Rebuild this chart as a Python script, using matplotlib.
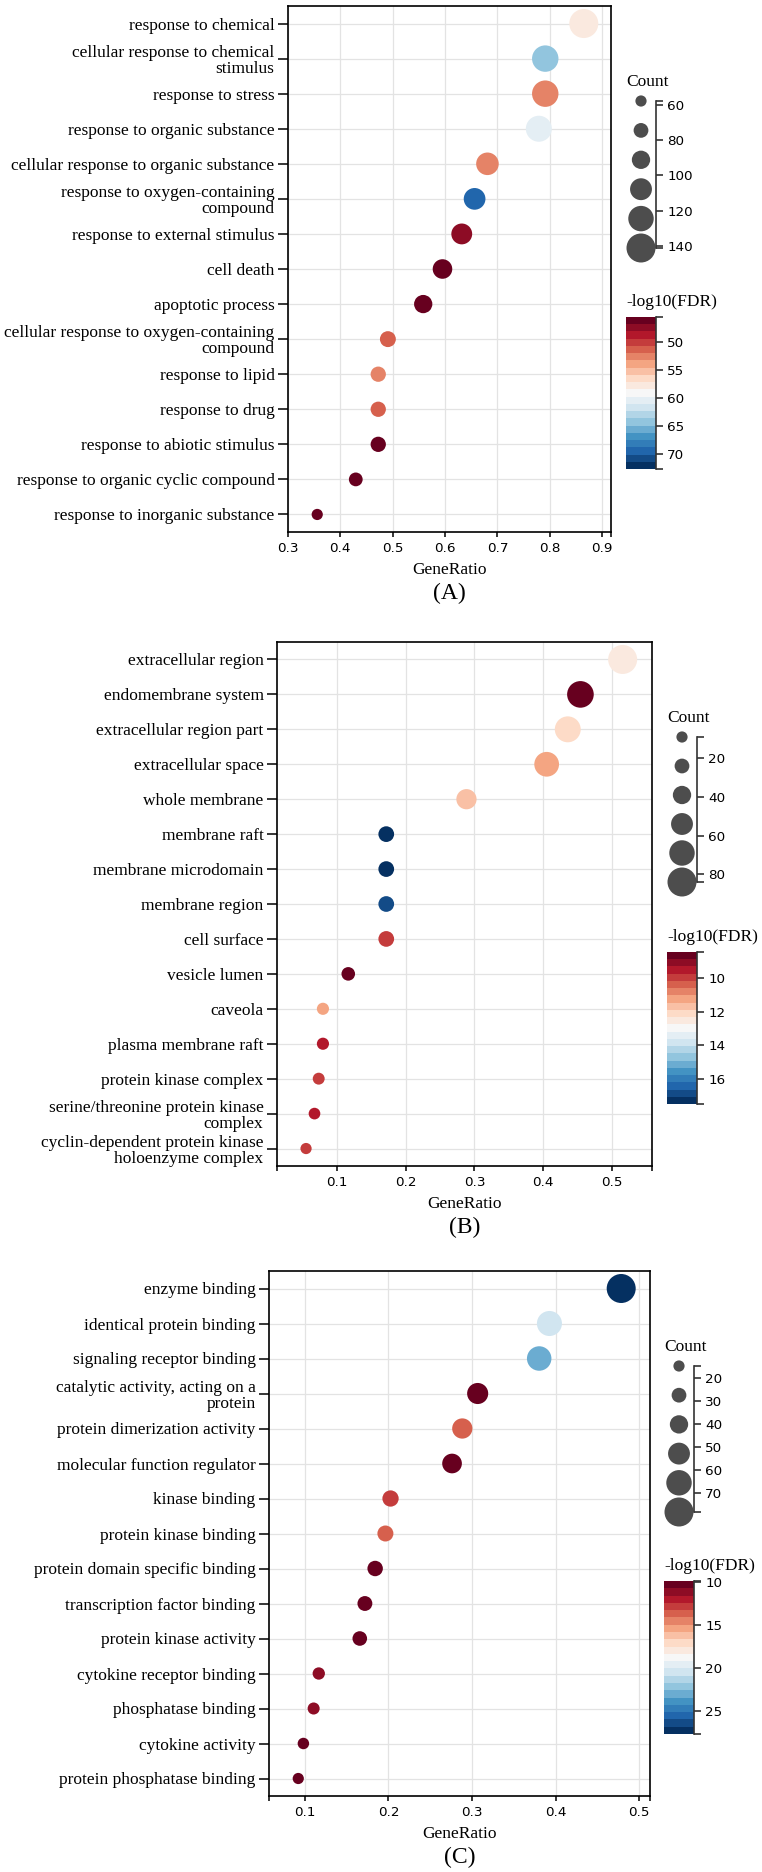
import numpy as np
import matplotlib
matplotlib.use('Agg')
import matplotlib.pyplot as plt
from matplotlib.colors import Normalize

# figure size in pixels (dpi 100)
W, H, DPI = 762, 1872, 100
TOTAL = 163  # genes in the input list -> GeneRatio = Count / TOTAL

# ---------------- data ----------------
# (A) biological process
terms_a = ['response to chemical', 'cellular response to chemical\nstimulus',
           'response to stress', 'response to organic substance',
           'cellular response to organic substance',
           'response to oxygen-containing\ncompound', 'response to external stimulus',
           'cell death', 'apoptotic process',
           'cellular response to oxygen-containing\ncompound', 'response to lipid',
           'response to drug', 'response to abiotic stimulus',
           'response to organic cyclic compound', 'response to inorganic substance']
count_a = [141, 129, 129, 127, 111, 107, 103, 97, 91, 80, 77, 77, 77, 70, 58]
fdr_a = [58.2, 63.7, 52.6, 60.5, 52.3, 69.2, 47.7, 45.5, 45.8, 50.7, 53.1, 50.7, 45.8, 46.3, 46.3]

# (B) cellular component
terms_b = ['extracellular region', 'endomembrane system', 'extracellular region part',
           'extracellular space', 'whole membrane', 'membrane raft',
           'membrane microdomain', 'membrane region', 'cell surface', 'vesicle lumen',
           'caveola', 'plasma membrane raft', 'protein kinase complex',
           'serine/threonine protein kinase\ncomplex',
           'cyclin-dependent protein kinase\nholoenzyme complex']
count_b = [84, 74, 71, 66, 47, 28, 28, 28, 28, 19, 13, 13, 12, 11, 9]
fdr_b = [12.6, 8.6, 12.2, 11.1, 11.7, 17.4, 17.3, 17.05, 9.8, 8.5, 11.2, 9.6, 10.0, 9.6, 9.9]

# (C) molecular function
terms_c = ['enzyme binding', 'identical protein binding', 'signaling receptor binding',
           'catalytic activity, acting on a\nprotein', 'protein dimerization activity',
           'molecular function regulator', 'kinase binding', 'protein kinase binding',
           'protein domain specific binding', 'transcription factor binding',
           'protein kinase activity', 'cytokine receptor binding', 'phosphatase binding',
           'cytokine activity', 'protein phosphatase binding']
count_c = [78, 64, 62, 50, 47, 45, 33, 32, 30, 28, 27, 19, 18, 16, 15]
fdr_c = [27.7, 20.6, 23.1, 9.9, 13.5, 10.0, 12.6, 13.3, 10.0, 10.3, 10.4, 11.3, 11.3, 10.4, 10.3]

# axis ticks / ranges
xticks_a = [0.3, 0.4, 0.5, 0.6, 0.7, 0.8, 0.9]
xticks_b = [0.1, 0.2, 0.3, 0.4, 0.5]
xticks_c = [0.1, 0.2, 0.3, 0.4, 0.5]
count_ticks_a = [60, 80, 100, 120, 140]
count_ticks_b = [20, 40, 60, 80]
count_ticks_c = [20, 30, 40, 50, 60, 70]
fdr_ticks_a = [50, 55, 60, 65, 70]
fdr_ticks_b = [10, 12, 14, 16]
fdr_ticks_c = [10, 15, 20, 25]

SERIF = 'Liberation Serif'
N_LEVELS = 21
cmap = matplotlib.colormaps['RdBu'].resampled(N_LEVELS)
R_MIN, R_MAX = 5.6, 14.5  # bubble radius (px)

fig = plt.figure(figsize=(W / DPI, H / DPI), dpi=DPI)


def px_axes(left, top, right, bottom):
    return fig.add_axes([left / W, 1 - bottom / H, (right - left) / W, (bottom - top) / H])


def bubble_size(c, cmin, cmax):
    r = R_MIN + (np.asarray(c, float) - cmin) / (cmax - cmin) * (R_MAX - R_MIN)
    return (2 * r * 72 / DPI) ** 2


def side_axis(a, lo, hi, ticks):
    # vertical axis on the right, small end ticks at both limits
    for s in ['left', 'top', 'bottom']:
        a.spines[s].set_visible(False)
    a.spines['right'].set_color('#333333')
    a.spines['right'].set_linewidth(1.2)
    a.set_xticks([])
    a.set_ylim(hi, lo)
    a.yaxis.tick_right()
    a.set_yticks(ticks)
    a.set_yticks([lo, hi], minor=True)
    a.tick_params(axis='y', which='both', length=5, width=1.2, color='#333333',
                  labelsize=9.7, pad=3)
    a.patch.set_visible(False)


def panel(ax_box, lg_box, cb_box, terms, counts, fdr, fdr_lim, xlim, xticks,
          count_ticks, fdr_ticks, letter):
    counts = np.array(counts)
    cmin, cmax = counts.min(), counts.max()
    norm = Normalize(*fdr_lim)

    ax = px_axes(*ax_box)
    y = np.arange(len(terms))
    ax.scatter(counts / TOTAL, y, s=bubble_size(counts, cmin, cmax), c=fdr,
               cmap=cmap, norm=norm, linewidths=0, zorder=3)
    ax.set_yticks(y)
    ax.set_yticklabels(terms, fontfamily=SERIF, fontsize=12.5, linespacing=1.0)
    ax.set_ylim(len(terms) - 0.5, -0.5)
    ax.set_xlim(xlim)
    ax.set_xticks(xticks)
    ax.set_xticks(list(xlim), minor=True)
    ax.tick_params(axis='x', which='both', length=3.6, width=1.1, labelsize=9.7)
    ax.tick_params(axis='y', length=7.2, width=1.1, pad=2.5)
    ax.grid(True, which='major', color='#e3e3e3', lw=0.9)
    ax.set_axisbelow(True)
    for s in ax.spines.values():
        s.set_linewidth(1.2)

    left, top, right, bottom = ax_box
    xc = (left + right) / 2 / W
    fig.text(xc, 1 - (bottom + 38) / H, 'GeneRatio', family=SERIF, size=12.5,
             ha='center', va='center')
    fig.text(xc, 1 - (bottom + 61) / H, letter, family=SERIF, size=17,
             ha='center', va='center')

    # size legend
    lg = px_axes(*lg_box)
    lv = np.linspace(cmin, cmax, 6)
    lg.scatter(np.full(6, 0.5), lv, s=bubble_size(lv, cmin, cmax), color='#4d4d4d',
               linewidths=0, clip_on=False)
    lg.set_xlim(0, 1)
    side_axis(lg, cmin, cmax, count_ticks)
    fig.text(lg_box[0] / W, 1 - (lg_box[1] - 19) / H, 'Count', family=SERIF,
             size=12.5, ha='left', va='center')

    # colour bar
    cax = px_axes(*cb_box)
    edges = np.linspace(fdr_lim[0], fdr_lim[1], N_LEVELS + 1)
    mids = (edges[:-1] + edges[1:]) / 2
    cax.pcolormesh([0, 1], edges, mids[:, None], cmap=cmap, norm=norm)
    cax.set_xlim(0, 1)
    side_axis(cax, fdr_lim[0], fdr_lim[1], fdr_ticks)
    fig.text(cb_box[0] / W, 1 - (cb_box[1] - 15) / H, '-log10(FDR)', family=SERIF,
             size=12.5, ha='left', va='center')


panel((288, 6, 611, 532), (626, 101, 656, 248), (626, 317, 656, 469),
      terms_a, count_a, fdr_a, (45.5, 72.7), (0.3, 0.917), xticks_a,
      count_ticks_a, fdr_ticks_a, '(A)')
panel((277, 642, 652, 1166), (667, 737, 697, 882), (667, 952, 697, 1104),
      terms_b, count_b, fdr_b, (8.46, 17.5), (0.013, 0.558), xticks_b,
      count_ticks_b, fdr_ticks_b, '(B)')
panel((269, 1271, 650, 1796), (664, 1366, 694, 1512), (664, 1581, 694, 1734),
      terms_c, count_c, fdr_c, (9.9, 27.7), (0.057, 0.513), xticks_c,
      count_ticks_c, fdr_ticks_c, '(C)')

fig.savefig('out.png', dpi=DPI)
